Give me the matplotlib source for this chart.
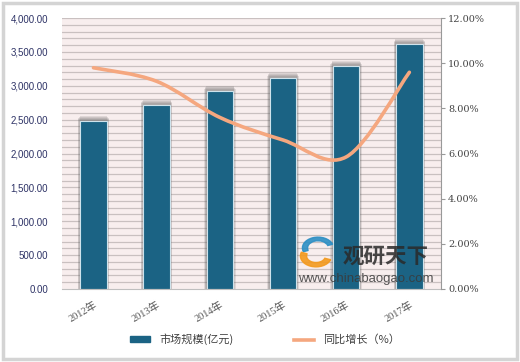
import numpy as np
import matplotlib.pyplot as plt
from matplotlib.patches import Rectangle, Patch, PathPatch, Wedge
from matplotlib.path import Path
from matplotlib.lines import Line2D

years = ['2012年', '2013年', '2014年', '2015年', '2016年', '2017年']
market_size = [2480, 2716, 2922, 3114, 3291, 3612]  # 亿元
growth = [9.8, 9.2, 7.6, 6.6, 5.85, 9.6]  # %

bar_color = '#1b6384'
line_color = '#f5a77f'
cjk = ['Noto Sans CJK SC', 'DejaVu Sans']


def smooth_path(xs, ys):
    # catmull-rom style bezier through the points
    pts = np.column_stack([xs, ys]).astype(float)
    verts = [pts[0]]
    codes = [Path.MOVETO]
    n = len(pts)
    for i in range(n - 1):
        p0 = pts[i - 1] if i > 0 else pts[i]
        p1, p2 = pts[i], pts[i + 1]
        p3 = pts[i + 2] if i + 2 < n else pts[i + 1]
        c1 = p1 + (p2 - p0) / 6
        c2 = p2 - (p3 - p1) / 6
        verts += [c1, c2, p2]
        codes += [Path.CURVE4] * 3
    return Path(verts, codes)


fig = plt.figure(figsize=(5.2, 3.62), dpi=100)
fig.patches.append(Rectangle((0.006, 0.008), 0.988, 0.985, transform=fig.transFigure,
                             fill=False, edgecolor='#d4d4d4', linewidth=2.5))

ax = fig.add_axes([0.119, 0.2017, 0.729, 0.7483])
ax.set_facecolor('#f8eeee')
x = np.arange(len(years))

ax.set_ylim(0, 4000)
ax.set_xlim(-0.5, len(years) - 0.5)
for v in range(100, 4001, 100):
    ax.axhline(v, color='#c9c0c0', linewidth=0.9, zorder=0)

# soft shadow behind the bars
for k in range(4):
    ax.bar(x, [m + 30 + 15 * k for m in market_size], width=0.5 - 0.02 * k,
           color='#5a5a5a', alpha=0.15, zorder=1, linewidth=0)
ax.bar(x, market_size, width=0.42, color=bar_color, edgecolor='#cfe3ec',
       linewidth=0.8, zorder=2)

ax.set_yticks(range(0, 4001, 500))
ax.set_yticklabels([f'{v:,.2f}' for v in range(0, 4001, 500)],
                   fontsize=7, color='#2e3366', family='Liberation Sans')
ax.tick_params(axis='y', length=0, pad=10)
ax.set_xticks(x)
ax.set_xticklabels(years, rotation=30, ha='right', rotation_mode='anchor',
                   fontsize=7.5, color='#555555',
                   family=['Liberation Serif', 'Noto Sans CJK SC'])
ax.tick_params(axis='x', length=0, pad=8)
for s in ['top', 'right', 'left']:
    ax.spines[s].set_visible(False)
ax.spines['bottom'].set_color('#bfbfbf')

ax2 = ax.twinx()
ax2.set_ylim(0, 12)
ax2.add_patch(PathPatch(smooth_path(x, growth), fill=False, edgecolor=line_color,
                        linewidth=2.6, capstyle='round', zorder=3))
ax2.set_yticks(range(0, 13, 2))
ax2.set_yticklabels([f'{v:.2f}%' for v in range(0, 13, 2)], fontsize=7,
                    color='#444444', family='DejaVu Serif')
ax2.tick_params(axis='y', length=3, color='#999999', pad=2)
for s in ['top', 'left', 'bottom']:
    ax2.spines[s].set_visible(False)
ax2.spines['right'].set_color('#999999')

# watermark
fig.patches.append(Wedge((318 / 520, 1 - 248 / 362), 0.03, 20, 200, width=0.01,
                         transform=fig.transFigure, color='#2d8fc4', alpha=0.9))
fig.patches.append(Wedge((316 / 520, 1 - 256 / 362), 0.03, 160, 340, width=0.012,
                         transform=fig.transFigure, color='#f39a1e', alpha=0.9))
fig.text(343 / 520, 1 - 263 / 362, '观研天下', fontsize=15.5, fontweight='bold',
         color='#2a2a2a', family=cjk, alpha=0.85)
fig.text(298 / 520, 1 - 282 / 362, 'www.chinabaogao.com', fontsize=9.5,
         color='#3a3a3a', family='Liberation Sans', alpha=0.85)

handles = [Patch(facecolor=bar_color, edgecolor=bar_color),
           Line2D([0], [0], color=line_color, linewidth=2.6)]
fig.legend(handles, ['市场规模(亿元)', '同比增长（%）'], loc='center',
           bbox_to_anchor=(0.51, 0.062), ncol=2, frameon=False,
           prop={'family': cjk, 'size': 8}, handlelength=1.8, handleheight=0.5,
           columnspacing=5.5, labelcolor='#404040')

fig.savefig('out.png', dpi=100)
